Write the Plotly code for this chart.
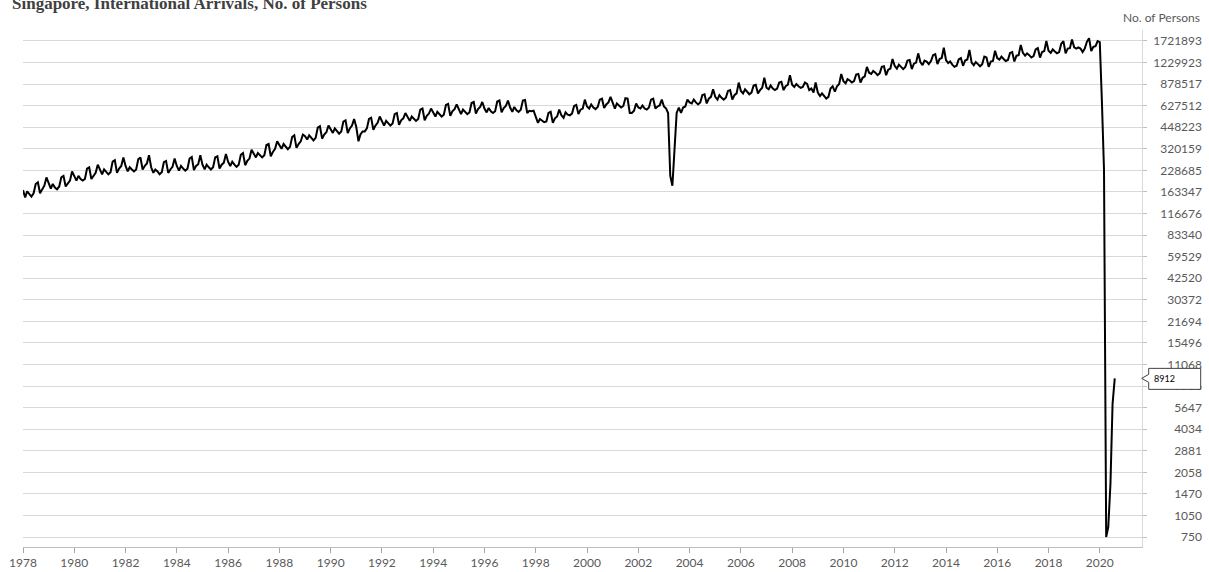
import math
import pandas as pd
import plotly.graph_objects as go

# Monthly international arrivals, thousands of persons
y1978 = [168, 150, 165, 158, 152, 160, 185, 190, 160, 170, 180, 205]
y1979 = [185, 172, 185, 175, 170, 178, 205, 210, 178, 188, 195, 225]
y1980 = [210, 195, 210, 200, 195, 200, 235, 240, 200, 212, 220, 250]
y1981 = [232, 215, 232, 222, 215, 222, 262, 268, 220, 235, 245, 280]
y1982 = [245, 225, 240, 232, 225, 232, 272, 280, 232, 245, 255, 290]
y1983 = [240, 220, 232, 225, 215, 222, 260, 265, 220, 232, 242, 275]
y1984 = [245, 228, 245, 235, 228, 235, 275, 282, 230, 245, 252, 290]
y1985 = [250, 232, 250, 240, 232, 240, 280, 285, 235, 250, 258, 295]
y1986 = [262, 245, 262, 250, 242, 250, 292, 300, 248, 265, 275, 315]
y1987 = [295, 280, 300, 290, 280, 290, 340, 345, 285, 305, 320, 360]
y1988 = [340, 320, 345, 330, 318, 330, 385, 395, 325, 345, 360, 400]
y1989 = [390, 370, 395, 380, 365, 380, 445, 455, 375, 400, 415, 460]
y1990 = [435, 410, 440, 420, 405, 420, 490, 500, 410, 440, 460, 510]
y1991 = [450, 360, 400, 420, 420, 440, 510, 520, 430, 460, 480, 530]
y1992 = [490, 460, 495, 475, 460, 475, 550, 560, 465, 500, 515, 560]
y1993 = [525, 495, 530, 510, 495, 510, 590, 600, 500, 535, 555, 600]
y1994 = [565, 530, 570, 545, 530, 545, 635, 645, 535, 575, 595, 640]
y1995 = [585, 550, 590, 565, 550, 565, 655, 665, 555, 595, 615, 665]
y1996 = [600, 565, 605, 575, 560, 575, 670, 680, 565, 605, 625, 680]
y1997 = [610, 570, 615, 585, 570, 590, 680, 685, 560, 580, 575, 580]
y1998 = [530, 480, 510, 500, 485, 490, 560, 570, 480, 515, 530, 590]
y1999 = [540, 520, 565, 545, 540, 555, 625, 635, 550, 590, 600, 690]
y2000 = [620, 600, 640, 610, 595, 615, 690, 700, 605, 640, 660, 720]
y2001 = [650, 600, 650, 625, 610, 625, 705, 700, 560, 560, 580, 650]
y2002 = [610, 600, 630, 600, 590, 610, 690, 700, 600, 620, 630, 690]
y2003 = [620, 600, 560, 210, 180, 320, 560, 610, 560, 610, 620, 690]
y2004 = [660, 650, 690, 660, 640, 660, 740, 750, 650, 700, 720, 810]
y2005 = [720, 690, 740, 710, 690, 710, 790, 800, 690, 740, 760, 900]
y2006 = [790, 760, 810, 780, 750, 770, 860, 870, 760, 800, 830, 970]
y2007 = [830, 810, 860, 820, 800, 820, 900, 910, 800, 850, 870, 1010]
y2008 = [870, 840, 880, 850, 830, 840, 900, 880, 800, 820, 770, 900]
y2009 = [770, 730, 760, 730, 700, 720, 820, 850, 780, 850, 880, 1030]
y2010 = [920, 890, 950, 930, 900, 920, 1020, 1030, 900, 970, 990, 1150]
y2011 = [1050, 1030, 1080, 1050, 1010, 1040, 1150, 1160, 1010, 1100, 1120, 1300]
y2012 = [1170, 1120, 1190, 1150, 1110, 1150, 1270, 1280, 1110, 1210, 1230, 1420]
y2013 = [1240, 1180, 1270, 1250, 1200, 1260, 1380, 1400, 1200, 1300, 1320, 1550]
y2014 = [1280, 1220, 1250, 1190, 1150, 1170, 1290, 1320, 1170, 1270, 1290, 1500]
y2015 = [1230, 1180, 1240, 1200, 1160, 1200, 1350, 1330, 1150, 1250, 1260, 1480]
y2016 = [1320, 1290, 1350, 1300, 1260, 1280, 1430, 1450, 1250, 1370, 1380, 1620]
y2017 = [1430, 1370, 1420, 1380, 1330, 1360, 1510, 1540, 1330, 1450, 1470, 1720]
y2018 = [1480, 1430, 1510, 1460, 1420, 1450, 1650, 1720, 1420, 1530, 1540, 1760]
y2019 = [1560, 1530, 1560, 1530, 1450, 1530, 1700, 1800, 1470, 1570, 1590, 1720]
y2020 = [1690, 650, 230, 0.75, 0.88, 1.73, 5.99, 8.912]

years_data = [y1978, y1979, y1980, y1981, y1982, y1983, y1984, y1985, y1986, y1987,
              y1988, y1989, y1990, y1991, y1992, y1993, y1994, y1995, y1996, y1997,
              y1998, y1999, y2000, y2001, y2002, y2003, y2004, y2005, y2006, y2007,
              y2008, y2009, y2010, y2011, y2012, y2013, y2014, y2015, y2016, y2017,
              y2018, y2019, y2020]

tick_values = [750, 1050, 1470, 2058, 2881, 4034, 5647, 7906, 11068, 15496, 21694,
               30372, 42520, 59529, 83340, 116676, 163347, 228685, 320159, 448223,
               627512, 878517, 1229923, 1721893]
tick_labels = [str(v) for v in tick_values]
year_ticks = list(range(1978, 2021, 2))
year_labels = [str(y) for y in year_ticks]

title_text = "Singapore, International Arrivals, No. of Persons"
unit_text = "No. of Persons"

values = [round(v * 1000) for yr in years_data for v in yr]
dates = pd.date_range("1978-01-01", periods=len(values), freq="MS")
last_value = values[-1]

W, H = 1209, 572
ML, MR, MT, MB = 23, 5, 30, 25
plot_w = W - ML - MR
x_end = (1141.7 - ML) / plot_w
label_pos = (1202 - ML) / plot_w

yrange = [2.8073, 6.3105]
grey_text = "#595959"
tick_font = dict(family="Lato, 'Open Sans', sans-serif", size=12, color=grey_text)

fig = go.Figure()
fig.add_trace(go.Scatter(x=dates, y=values, mode="lines",
                         line=dict(color="#000000", width=2),
                         hoverinfo="x+y", showlegend=False))
fig.add_trace(go.Scatter(x=[dates[0]], y=[values[0]], yaxis="y2", mode="markers",
                         marker=dict(opacity=0), hoverinfo="skip", showlegend=False))

fig.update_layout(
    width=W, height=H,
    margin=dict(l=ML, r=MR, t=MT, b=MB),
    paper_bgcolor="white", plot_bgcolor="white",
    xaxis=dict(type="date", domain=[0, x_end],
               range=["1978-01-01", "2021-08-20"],
               tickvals=[f"{y}-01-01" for y in year_ticks], ticktext=year_labels,
               ticks="outside", ticklen=5, tickcolor="#a6a6a6",
               showline=True, linecolor="#bfbfbf", linewidth=1,
               showgrid=False, zeroline=False, tickfont=tick_font, automargin=False),
    yaxis=dict(type="log", side="right", range=yrange,
               tickvals=tick_values, ticktext=tick_labels, showticklabels=False,
               ticks="outside", ticklen=4, tickcolor="#bfbfbf",
               showline=True, linecolor="#d9d9d9", linewidth=1,
               showgrid=True, gridcolor="#d9d9d9", gridwidth=1,
               zeroline=False, automargin=False),
    yaxis2=dict(type="log", overlaying="y", side="left", anchor="free",
                position=label_pos, range=yrange,
                tickvals=tick_values, ticktext=tick_labels,
                ticks="", showline=False, showgrid=False, zeroline=False,
                tickfont=tick_font, automargin=False),
)

fig.add_annotation(text=f"<b>{title_text}</b>", xref="paper", yref="paper",
                   x=(10 - ML) / plot_w, y=1, xanchor="left", yanchor="middle",
                   yshift=MT - 3, showarrow=False,
                   font=dict(family="'Liberation Serif', serif", size=17, color="#404040"))
fig.add_annotation(text=unit_text, xref="paper", yref="paper",
                   x=label_pos, y=1, xanchor="right", yanchor="middle",
                   yshift=MT - 17, showarrow=False, font=tick_font)

fig.add_shape(type="path", xref="paper", xsizemode="pixel", xanchor=x_end,
              yref="y", ysizemode="pixel", yanchor=last_value,
              path="M0,0 L7,4 L7,10 L59,10 L59,-11 L7,-11 L7,-4 Z",
              fillcolor="white", line=dict(color="#404040", width=1), layer="above")
fig.add_annotation(text=str(last_value), xref="paper", yref="y",
                   x=x_end, y=math.log10(last_value), xanchor="left", xshift=10,
                   yanchor="middle", showarrow=False,
                   font=dict(family="Lato, sans-serif", size=9, color="#000000"))

fig.write_html("out.html", config={"displayModeBar": False},
               post_script="document.body.style.margin='0px';document.body.style.padding='0px';")
